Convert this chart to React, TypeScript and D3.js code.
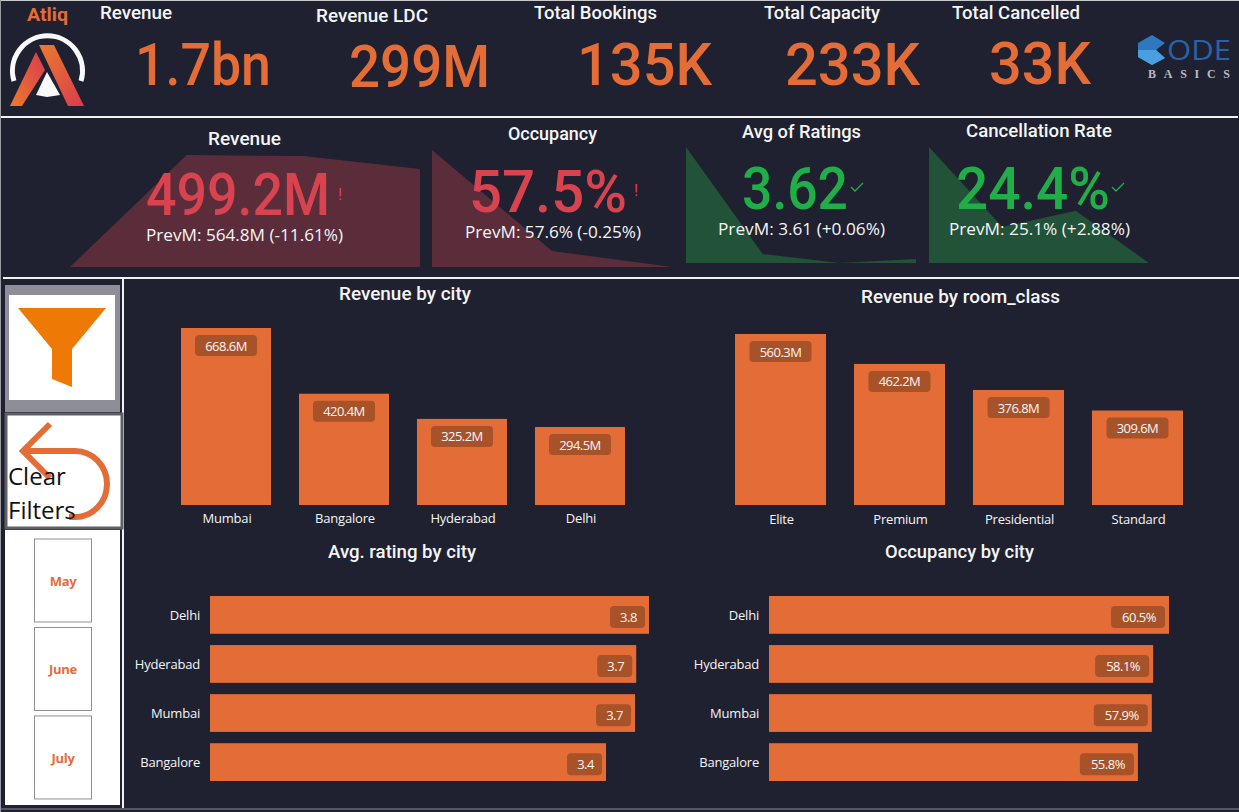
import React from "react";
import * as d3 from "d3";

// ---- data ----
const cityCats = ["Mumbai", "Bangalore", "Hyderabad", "Delhi"];
const cityRevenue = [668.6, 420.4, 325.2, 294.5];
const roomCats = ["Elite", "Premium", "Presidential", "Standard"];
const roomRevenue = [560.3, 462.2, 376.8, 309.6];
const ratingCats = ["Delhi", "Hyderabad", "Mumbai", "Bangalore"];
const ratingValues = [3.78, 3.67, 3.66, 3.41];
const occupancyCats = ["Delhi", "Hyderabad", "Mumbai", "Bangalore"];
const occupancyValues = [60.5, 58.1, 57.9, 55.8];
const revenueTrend = [0, 100, 99, 87.5];
const occupancyTrend = [100, 13.7, 0];
const ratingTrend = [100, 7.8, 0, 3.4];
const cancelTrend = [100, 31, 45, 0];
const months = ["May", "June", "July"];

const BG = "#1f2130";
const ORANGE = "#e46c37";
const CHIP = "#a8522a";
const RED = "#d8434f";
const GREEN = "#1fae47";
const RED_AREA = "#5b2d3b";
const GREEN_AREA = "#225238";
const WHITE = "#f4f5f6";
const DIN = "Roboto, sans-serif";
const UI = "'Open Sans', sans-serif";

function T(p: any) {
  const { x, x2, y, size, fill = WHITE, weight = 400, family = DIN, anchor, spacing, adjust = "spacingAndGlyphs", children } = p;
  return (
    <text
      x={x}
      y={y}
      fontSize={size}
      fill={fill}
      fontWeight={weight}
      fontFamily={family}
      textAnchor={anchor}
      letterSpacing={spacing}
      {...(x2 != null ? { textLength: x2 - x, lengthAdjust: adjust } : {})}
    >
      {children}
    </text>
  );
}

function VBars({ cats, vals, x0, x1, base, top, max, bw, labelDy }: any) {
  const band = d3.scaleBand<string>().domain(cats).range([x0, x1]).paddingInner(1 - bw).paddingOuter(0);
  const y = d3.scaleLinear().domain([0, max]).range([base, top]);
  return (
    <g>
      {cats.map((c: string, i: number) => {
        const bx = band(c) as number;
        const w = band.bandwidth();
        const cx = bx + w / 2;
        const ty = y(vals[i]);
        return (
          <g key={c}>
            <rect x={bx} y={ty} width={w} height={base - ty} fill={ORANGE} />
            <rect x={cx - 31} y={ty + 7} width={62} height={21} rx={4} fill={CHIP} />
            <T x={cx} y={ty + 22.5} size={13} family={UI} anchor="middle" spacing={-0.55}>{vals[i].toFixed(1) + "M"}</T>
            <T x={cx + 1} y={base + labelDy} size={13} family={UI} anchor="middle" spacing={-0.2}>{c}</T>
          </g>
        );
      })}
    </g>
  );
}

function HBars({ cats, vals, x0, xMaxPx, max, top, bottom, fmt, chipW, labelX }: any) {
  const band = d3.scaleBand<string>().domain(cats).range([top, bottom]).paddingInner(0.23).paddingOuter(0);
  const x = d3.scaleLinear().domain([0, max]).range([x0, xMaxPx]);
  return (
    <g>
      {cats.map((c: string, i: number) => {
        const by = band(c) as number;
        const h = band.bandwidth();
        const end = x(vals[i]);
        return (
          <g key={c}>
            <rect x={x0} y={by} width={end - x0} height={h} fill={ORANGE} />
            <rect x={end - 4 - chipW} y={by + 10} width={chipW} height={22} rx={4} fill={CHIP} />
            <T x={end - 4 - chipW / 2 + 1} y={by + 26} size={13} family={UI} anchor="middle" spacing={-0.5}>{fmt(vals[i])}</T>
            <T x={labelX} y={by + 23.5} size={13} family={UI} anchor="end" spacing={-0.2}>{c}</T>
          </g>
        );
      })}
    </g>
  );
}

function Spark({ vals, x0, x1, top, base, fill }: any) {
  const x = d3.scalePoint<number>().domain(vals.map((_: number, i: number) => i)).range([x0, x1]);
  const y = d3.scaleLinear().domain([0, 100]).range([base, top]);
  const a = d3.area<number>().x((_, i) => x(i) as number).y0(base).y1((d) => y(d));
  return <path d={a(vals) as string} fill={fill} />;
}

export default function App() {
  return (
    <svg width={1239} height={812} viewBox="0 0 1239 812" style={{ position: "absolute", left: 0, top: 0, display: "block" }}>
      <defs>
        <linearGradient id="legL" x1="0" y1="1" x2="1" y2="0">
          <stop offset="0" stopColor="#ec7b2e" />
          <stop offset="1" stopColor="#d83a4f" />
        </linearGradient>
        <linearGradient id="legR" x1="0" y1="0" x2="1" y2="1">
          <stop offset="0" stopColor="#ea7a2e" />
          <stop offset="1" stopColor="#d93c4e" />
        </linearGradient>
      </defs>
      <rect width={1239} height={812} fill={BG} />
      <rect x={0} y={0} width={1239} height={1} fill="#c8c9cd" />
      <rect x={0} y={0} width={1} height={812} fill="#9a9ba2" />
      <rect x={1} y={116} width={1237} height={2} fill="#f2f2f2" />
      <rect x={3} y={277} width={1236} height={2} fill="#f2f2f2" />
      <rect x={122} y={278} width={2} height={530} fill="#f2f2f2" />
      <rect x={0} y={808.5} width={1239} height={1} fill="#8b8c92" />

      {/* logo */}
      <T x={27} y={21} x2={68} size={19} fill={ORANGE} weight={700}>Atliq</T>
      <path d="M14,81 A35,35 0 1 1 81,81" fill="none" stroke="#fafafa" strokeWidth={5} />
      <polygon points="47,72 60,95 47,97 36,95" fill="#fafafa" />
      <polygon points="10,106 36,52 45,70 22,106" fill="url(#legL)" />
      <polygon points="39,45 54,45 84,106 68,106" fill="url(#legR)" />

      {/* code basics logo */}
      <polygon points="1152,35 1165,43 1156,50 1165,58 1152,65 1138,57 1138,43" fill="#2f78c0" />
      <polygon points="1138,50 1156,50 1165,58 1152,65 1138,57" fill="#4a9fe0" />
      <T x={1167} x2={1231} y={60} size={28} fill="#2a62a8" family={UI}>ODE</T>
      <T x={1148} x2={1230} y={78} size={12} fill="#b9bcc4" weight={700} family="'Liberation Serif', serif" adjust="spacing">BASICS</T>

      {/* header cards */}
      <T x={100} x2={172} y={19} size={18} weight={500}>Revenue</T>
      <T x={316} x2={428} y={22} size={18} weight={500}>Revenue LDC</T>
      <T x={534} x2={657} y={19} size={18} weight={500}>Total Bookings</T>
      <T x={764} x2={880} y={19} size={18} weight={500}>Total Capacity</T>
      <T x={952} x2={1080} y={19} size={18} weight={500}>Total Cancelled</T>
      <T x={135} x2={271} y={85} size={60} fill={ORANGE} weight={500}>1.7bn</T>
      <T x={349} x2={490} y={87} size={60} fill={ORANGE} weight={500}>299M</T>
      <T x={577} x2={712} y={85} size={60} fill={ORANGE} weight={500}>135K</T>
      <T x={785} x2={920} y={85} size={60} fill={ORANGE} weight={500}>233K</T>
      <T x={989} x2={1091} y={84} size={60} fill={ORANGE} weight={500}>33K</T>

      {/* KPI cards */}
      <Spark vals={revenueTrend} x0={70} x1={420} top={155} base={267} fill={RED_AREA} />
      <Spark vals={occupancyTrend} x0={432} x1={672} top={150} base={267} fill={RED_AREA} />
      <Spark vals={ratingTrend} x0={686} x1={916} top={147} base={263} fill={GREEN_AREA} />
      <Spark vals={cancelTrend} x0={929} x1={1149} top={147} base={263} fill={GREEN_AREA} />

      <T x={208} x2={281} y={145} size={18} weight={500}>Revenue</T>
      <T x={508} x2={597} y={140} size={18} weight={500}>Occupancy</T>
      <T x={742} x2={861} y={138} size={18} weight={500}>Avg of Ratings</T>
      <T x={966} x2={1112} y={137} size={18} weight={500}>Cancellation Rate</T>

      <T x={146} x2={330} y={215} size={60} fill={RED} weight={500}>499.2M</T>
      <T x={469} x2={627} y={212} size={60} fill={RED} weight={500}>57.5%</T>
      <T x={742} x2={848} y={209} size={60} fill={GREEN} weight={500}>3.62</T>
      <T x={956} x2={1110} y={209} size={60} fill={GREEN} weight={500}>24.4%</T>
      <T x={338} y={200} size={16} fill={RED}>!</T>
      <T x={634} y={196} size={16} fill={RED}>!</T>
      <path d="M851,187 l4,4 l8,-8" fill="none" stroke={GREEN} strokeWidth={1.3} />
      <path d="M1112,187 l4,4 l8,-8" fill="none" stroke={GREEN} strokeWidth={1.3} />

      <T x={146} x2={343} y={241} size={16} family={UI}>PrevM: 564.8M (-11.61%)</T>
      <T x={465} x2={641} y={238} size={16} family={UI}>PrevM: 57.6% (-0.25%)</T>
      <T x={718} x2={885} y={235} size={16} family={UI}>PrevM: 3.61 (+0.06%)</T>
      <T x={949} x2={1130} y={235} size={16} family={UI}>PrevM: 25.1% (+2.88%)</T>

      {/* left rail */}
      <rect x={5} y={285} width={115} height={127} fill="#8d8e97" />
      <rect x={9} y={295} width={106} height={105} fill="#ffffff" />
      <polygon points="18,308 106,308 72,349 72,387 52,379 52,349" fill="#ee7a05" />
      <rect x={5} y={530} width={115} height={275} fill="#ffffff" />
      <rect x={6} y={414} width={116} height={114} fill="#ffffff" stroke="#5f6066" strokeWidth={3} />
      <path d="M50,424 L23,451 L50,478 M23,451 H75 A32,33 0 0 1 75,517 H69" fill="none" stroke={ORANGE} strokeWidth={6} />
      <T x={8} y={485} size={24} fill="#111" family={UI}>Clear</T>
      <T x={8} y={519} size={24} fill="#111" family={UI}>Filters</T>
      {months.map((m) => {
        const y = d3.scaleBand<string>().domain(months).range([539, 800]).paddingInner(0.05)(m) as number;
        return (
          <g key={m}>
            <rect x={34.5} y={y} width={57} height={83} fill="#fff" stroke="#8f9096" strokeWidth={1} />
            <T x={63} y={y + 47} size={13} fill={ORANGE} weight={700} family={UI} anchor="middle" spacing={-0.3}>{m}</T>
          </g>
        );
      })}

      {/* charts */}
      <T x={339} x2={471} y={300} size={18} weight={500}>Revenue by city</T>
      <T x={861} x2={1060} y={303} size={18} weight={500}>Revenue by room_class</T>
      <T x={328} x2={476} y={558} size={18} weight={500}>Avg. rating by city</T>
      <T x={885} x2={1034} y={558} size={18} weight={500}>Occupancy by city</T>

      <VBars cats={cityCats} vals={cityRevenue} x0={181} x1={625} base={505} top={328} max={668.6} bw={0.763} labelDy={18} />
      <VBars cats={roomCats} vals={roomRevenue} x0={735} x1={1183} base={505} top={334} max={560.3} bw={0.765} labelDy={19} />
      <HBars cats={ratingCats} vals={ratingValues} x0={210} xMaxPx={649} max={3.78} top={596} bottom={781} fmt={(v: number) => v.toFixed(1)} chipW={35} labelX={200} />
      <HBars cats={occupancyCats} vals={occupancyValues} x0={769} xMaxPx={1169} max={60.5} top={596} bottom={781} fmt={(v: number) => v.toFixed(1) + "%"} chipW={54} labelX={759} />
    </svg>
  );
}
